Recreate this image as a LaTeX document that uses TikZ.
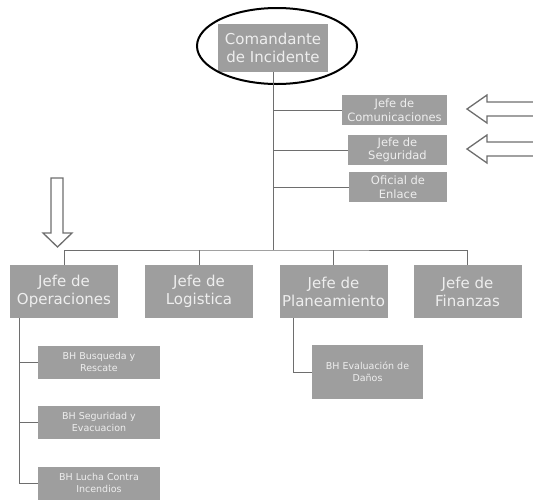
\documentclass[tikz,border=0pt]{standalone}
\usepackage{fontspec}
\setmainfont{DejaVu Sans}
\definecolor{boxgray}{RGB}{158,158,158}
\definecolor{textgray}{RGB}{238,238,238}
\definecolor{linegray}{RGB}{110,110,110}

\tikzset{>=latex,
         box/.style={fill=boxgray, text=textgray, inner sep=0pt, align=center,
                     minimum width=108pt, minimum height=53pt,
                     font=\fontsize{15}{18}\selectfont},
         sidebox/.style={fill=boxgray, text=textgray, inner sep=0pt, align=center,
                     minimum height=30pt, font=\fontsize{11.5}{13.5}\selectfont},
         bhbox/.style={fill=boxgray, text=textgray, inner sep=0pt, align=center,
                     minimum width=122pt, minimum height=33pt,
                     font=\fontsize{9.5}{12}\selectfont},
         link/.style={draw=linegray, line width=0.8pt},
         hollow/.style={draw=linegray, line width=1.3pt, fill=white}}

\begin{document}
\begin{tikzpicture}[x=1pt, y=-1pt]
            \useasboundingbox (0,0) rectangle (533,499);

            % top of the chart
            \node[box, minimum width=110pt, minimum height=48pt] at (273, 48) (cmd) {Comandante\\de Incidente};
            \draw[line width=2pt] (277, 46) ellipse (80pt and 38pt);

            \node[sidebox, minimum width=105pt] at (394.5, 110) (comm) {Jefe de\\Comunicaciones};
            \node[sidebox, minimum width=99pt]  at (397.5, 150) (seg)  {Jefe de\\Seguridad};
            \node[sidebox, minimum width=98pt]  at (398.0, 187) (enl)  {Oficial de\\Enlace};

            % second level
            \node[box] at ( 64.0, 291.5) (ops)  {Jefe de\\Operaciones};
            \node[box] at (199.0, 291.5) (log)  {Jefe de\\Logistica};
            \node[box] at (333.5, 291.5) (plan) {Jefe de\\Planeamiento};
            \node[box] at (467.5, 291.5) (fin)  {Jefe de\\Finanzas};

            % branches
            \node[bhbox] at ( 99.0, 362) (bhbus) {BH Busqueda y\\Rescate};
            \node[bhbox] at ( 99.0, 422) (bhseg) {BH Seguridad y\\Evacuacion};
            \node[bhbox] at ( 99.0, 483) (bhluc) {BH Lucha Contra\\Incendios};
            \node[bhbox, minimum width=111pt, minimum height=54pt] at (367.5, 372) (bheval) {BH Evaluación de\\Daños};

            \coordinate (bus)      at (273, 250);
            \coordinate (opsdrop)  at ( 19, 318);
            \coordinate (plandrop) at (293, 318);

            \draw[link] (cmd.south) -- (bus);
            \draw[link] (cmd.south |- comm.west) -- (comm.west);
            \draw[link] (cmd.south |- seg.west)  -- (seg.west);
            \draw[link] (cmd.south |- enl.west)  -- (enl.west);

            \draw[link] (ops.north) |- (bus) -| (fin.north);
            \draw[link] (log.north)  -- (log.north |- bus);
            \draw[link] (plan.north) -- (plan.north |- bus);

            \draw[link] (opsdrop) |- (bhluc.west);
            \draw[link] (opsdrop |- bhbus.west) -- (bhbus.west);
            \draw[link] (opsdrop |- bhseg.west) -- (bhseg.west);
            \draw[link] (plandrop) |- (bheval.west);

            % hollow arrows
            \draw[hollow] (534, 102) -- (487, 102) -- (487, 95) -- (467, 109)
                       -- (487, 123) -- (487, 116) -- (534, 116);
            \draw[hollow] (534, 142) -- (487, 142) -- (487, 135) -- (467, 149)
                       -- (487, 163) -- (487, 156) -- (534, 156);
            \draw[hollow] (51, 178) -- (51, 233) -- (43, 233) -- (57.5, 247)
                       -- (72, 233) -- (63, 233) -- (63, 178) -- cycle;
        \end{tikzpicture}
\end{document}
